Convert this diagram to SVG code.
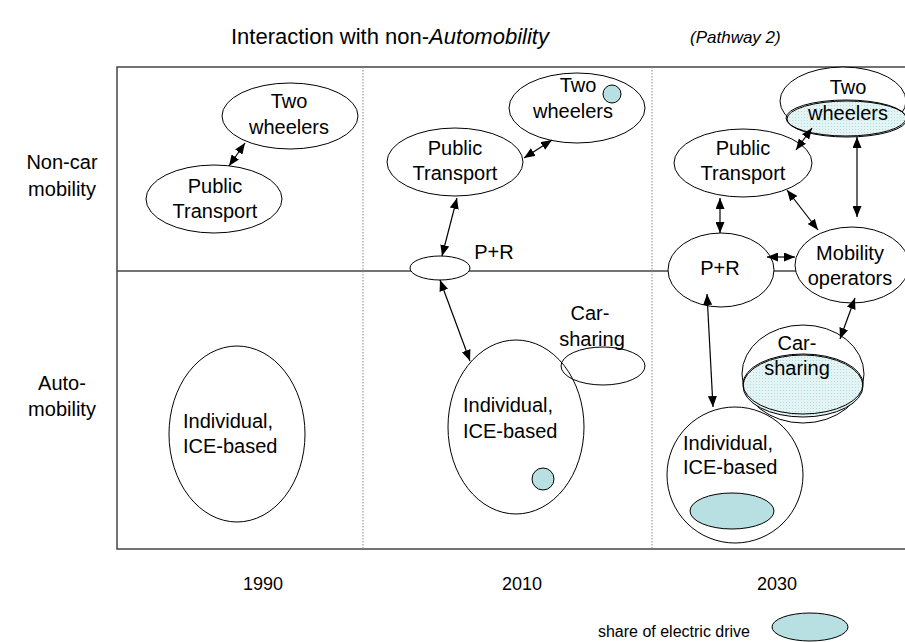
<svg xmlns="http://www.w3.org/2000/svg" width="905" height="642" viewBox="0 0 905 642">
<style>
text{font-family:"Liberation Sans",Arial,sans-serif;fill:#000;}
.t{font-size:20px;text-anchor:middle;}
.ts{font-size:20px;text-anchor:start;}
.lbl{font-size:20px;text-anchor:middle;}
.yr{font-size:18px;text-anchor:middle;}
.n{fill:#fff;stroke:#000;stroke-width:1;}
.e{fill:#b8dfe2;stroke:#000;stroke-width:1;}
.ed{fill:url(#dots);stroke:#000;stroke-width:1;}
.frame{fill:none;stroke:#444;stroke-width:1.5;}
.dv{stroke:#888;stroke-width:1;stroke-dasharray:1.5,1.5;}
.c{stroke:#000;stroke-width:1.2;fill:none;marker-start:url(#ah);marker-end:url(#ah);}
</style>
<defs>
<marker id="ah" markerUnits="userSpaceOnUse" markerWidth="11" markerHeight="9" refX="11" refY="4.5" orient="auto-start-reverse">
<path d="M0,0 L11,4.5 L0,9 z" fill="#000"/>
</marker>
<pattern id="dots" patternUnits="userSpaceOnUse" width="3" height="3">
<rect width="3" height="3" fill="#e4f3f3"/>
<rect width="1" height="1" fill="#b4dbde"/>
</pattern>
</defs>
<rect width="905" height="642" fill="#fff"/>
<g id="title">
<text x="231" y="44" style="font-size:22px">Interaction with non-<tspan font-style="italic">Automobility</tspan></text>
<text x="690" y="43" style="font-size:17px;font-style:italic">(Pathway 2)</text>
</g>
<g id="frame">
<path class="frame" d="M910,67 H117 V549 H910"/>
<line x1="117" y1="271" x2="905" y2="271" stroke="#444" stroke-width="1.5"/>
<line class="dv" x1="363" y1="67" x2="363" y2="549"/>
<line class="dv" x1="652" y1="67" x2="652" y2="549"/>
</g>
<g id="axis-labels">
<text class="lbl" x="62" y="169">Non-car</text>
<text class="lbl" x="62" y="196">mobility</text>
<text class="lbl" x="62" y="390">Auto-</text>
<text class="lbl" x="62" y="416">mobility</text>
<text class="yr" x="263" y="590">1990</text>
<text class="yr" x="522" y="590">2010</text>
<text class="yr" x="777" y="590">2030</text>
</g>
<g id="n1990-twowheelers">
<ellipse class="n" cx="290" cy="116" rx="68" ry="33"/>
<text class="t" x="289" y="108">Two</text>
<text class="t" x="289" y="134">wheelers</text>
</g>
<g id="n1990-public">
<ellipse class="n" cx="214" cy="199" rx="68" ry="34"/>
<text class="t" x="215" y="193">Public</text>
<text class="t" x="215" y="218">Transport</text>
</g>
<g id="n1990-individual">
<ellipse class="n" cx="237" cy="434" rx="68" ry="88"/>
<text class="ts" x="183" y="428">Individual,</text>
<text class="ts" x="183" y="453">ICE-based</text>
</g>
<g id="n2010-twowheelers">
<ellipse class="n" cx="577" cy="108" rx="68" ry="35"/>
<circle class="e" cx="612" cy="94" r="9"/>
<text class="t" x="578" y="92">Two</text>
<text class="t" x="573" y="118">wheelers</text>
</g>
<g id="n2010-public">
<ellipse class="n" cx="455" cy="162" rx="68" ry="34"/>
<text class="t" x="455" y="155">Public</text>
<text class="t" x="455" y="180">Transport</text>
</g>
<g id="n2010-pr">
<ellipse class="n" cx="440" cy="268" rx="30" ry="12"/>
<text class="t" x="494" y="259">P+R</text>
</g>
<g id="n2010-individual">
<ellipse class="n" cx="516" cy="427" rx="68" ry="87"/>
<circle class="e" cx="543" cy="479" r="11"/>
<text class="ts" x="463" y="412">Individual,</text>
<text class="ts" x="463" y="438">ICE-based</text>
</g>
<g id="n2010-carsharing">
<ellipse cx="603" cy="366" rx="42" ry="19" fill="none" stroke="#000"/>
<text class="t" x="590" y="320">Car-</text>
<text class="t" x="592" y="346">sharing</text>
</g>
<g id="n2030-twowheelers">
<ellipse class="n" cx="843" cy="101" rx="63" ry="34"/>
<ellipse class="ed" cx="847" cy="119" rx="60" ry="18"/>
<ellipse cx="846" cy="118" rx="60" ry="18" fill="none" stroke="#000"/>
<text class="t" x="848" y="94">Two</text>
<text class="t" x="848" y="120">wheelers</text>
</g>
<g id="n2030-public">
<ellipse class="n" cx="743" cy="163" rx="69" ry="34"/>
<text class="t" x="743" y="155">Public</text>
<text class="t" x="743" y="180">Transport</text>
</g>
<g id="n2030-pr">
<ellipse class="n" cx="721" cy="270" rx="53" ry="37"/>
<text class="t" x="720" y="275">P+R</text>
</g>
<g id="n2030-mobility">
<ellipse class="n" cx="852" cy="265" rx="57" ry="38"/>
<text class="t" x="850" y="260">Mobility</text>
<text class="t" x="850" y="285">operators</text>
</g>
<g id="n2030-carsharing">
<ellipse class="n" cx="803" cy="374" rx="61" ry="49"/>
<ellipse class="ed" cx="803" cy="386" rx="60" ry="31"/>
<ellipse cx="803" cy="384" rx="60" ry="30" fill="none" stroke="#000"/>
<text class="t" x="797" y="350">Car-</text>
<text class="t" x="797" y="375">sharing</text>
</g>
<g id="n2030-individual">
<ellipse class="n" cx="735" cy="475" rx="68" ry="68"/>
<ellipse class="e" cx="732" cy="511" rx="42" ry="18"/>
<text class="ts" x="683" y="450">Individual,</text>
<text class="ts" x="683" y="474">ICE-based</text>
</g>
<g id="connectors">
<line class="c" x1="245" y1="143" x2="229" y2="166"/>
<line class="c" x1="524" y1="158" x2="552" y2="140"/>
<line class="c" x1="457" y1="198" x2="442" y2="256"/>
<line class="c" x1="440" y1="280" x2="470" y2="361"/>
<line class="c" x1="796" y1="150" x2="812" y2="128"/>
<line class="c" x1="857" y1="137" x2="857" y2="217"/>
<line class="c" x1="720" y1="198" x2="720" y2="233"/>
<line class="c" x1="787" y1="190" x2="818" y2="230"/>
<line class="c" x1="767" y1="257" x2="795" y2="257"/>
<line class="c" x1="707" y1="294" x2="713" y2="407"/>
<line class="c" x1="855" y1="298" x2="840" y2="339"/>
</g>
<g id="legend">
<text x="750" y="637" style="font-size:16px;text-anchor:end">share of electric drive</text>
<ellipse class="e" cx="810" cy="627" rx="38" ry="14"/>
</g>
</svg>
